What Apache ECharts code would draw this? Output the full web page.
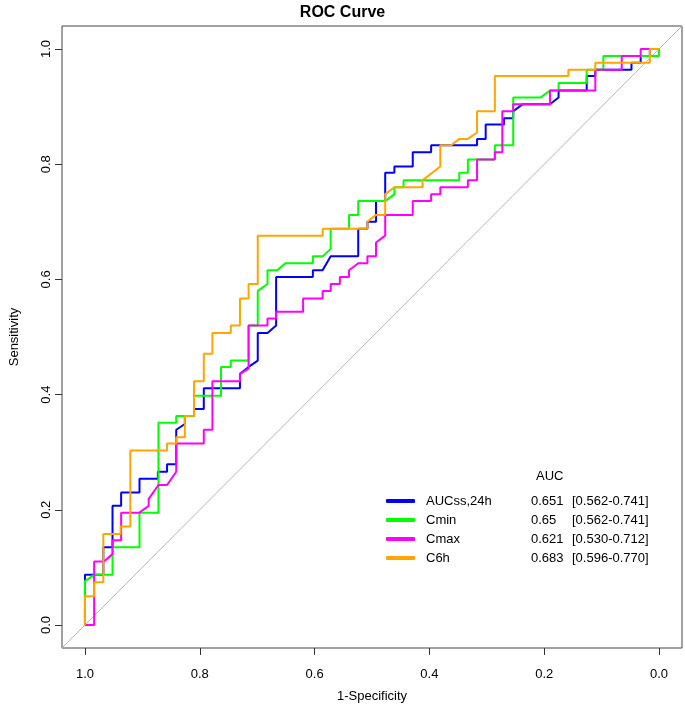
<!DOCTYPE html>
<html>
<head>
<meta charset="utf-8">
<script src="https://cdn.jsdelivr.net/npm/echarts@6/dist/echarts.min.js"></script>
<style>
html,body{margin:0;padding:0;background:#fff;}
#chart{width:685px;height:710px;}
</style>
</head>
<body>
<div id="chart"></div>
<script>
// ---- data: [specificity, sensitivity] ----
const seriesNames = ['AUCss,24h', 'Cmin', 'Cmax', 'C6h'];
const aucValues = ['0.651', '0.65', '0.621', '0.683'];
const aucCI = ['[0.562-0.741]', '[0.562-0.741]', '[0.530-0.712]', '[0.596-0.770]'];
const tickValues = [0, 0.2, 0.4, 0.6, 0.8, 1.0];
const diagonal = [[1.04, -0.04], [-0.04, 1.04]];

const rocAUCss = [
  [1.000,0],[1.000,0.087],[0.968,0.087],[0.968,0.135],[0.952,0.135],[0.952,0.207],
  [0.937,0.207],[0.937,0.230],[0.905,0.230],[0.905,0.254],[0.873,0.254],[0.873,0.266],
  [0.857,0.266],[0.857,0.279],[0.841,0.279],[0.841,0.339],[0.826,0.349],[0.826,0.363],
  [0.810,0.363],[0.810,0.375],[0.793,0.375],[0.793,0.411],[0.730,0.411],[0.730,0.436],
  [0.715,0.448],[0.699,0.459],[0.699,0.507],[0.682,0.507],[0.667,0.520],[0.667,0.604],
  [0.603,0.604],[0.603,0.616],[0.586,0.616],[0.572,0.640],[0.524,0.640],[0.524,0.688],
  [0.508,0.688],[0.508,0.700],[0.493,0.700],[0.493,0.736],[0.477,0.736],[0.477,0.785],
  [0.461,0.785],[0.461,0.796],[0.429,0.796],[0.429,0.821],[0.397,0.821],[0.397,0.833],
  [0.317,0.833],[0.317,0.844],[0.302,0.844],[0.302,0.869],[0.270,0.869],[0.270,0.880],
  [0.254,0.880],[0.254,0.892],[0.238,0.904],[0.190,0.904],[0.175,0.916],[0.175,0.928],
  [0.126,0.928],[0.126,0.953],[0.111,0.953],[0.111,0.964],[0.048,0.964],[0.048,0.976],
  [0.032,0.976],[0.032,0.988],[0.016,0.988],[0.016,1.000],[0.000,1.000]
];

const rocCmin = [
  [1.000,0],[1.000,0.076],[0.984,0.087],[0.952,0.087],[0.952,0.135],[0.905,0.135],
  [0.905,0.195],[0.872,0.195],[0.872,0.351],[0.841,0.351],[0.841,0.363],[0.810,0.363],
  [0.810,0.398],[0.763,0.398],[0.763,0.448],[0.746,0.448],[0.746,0.459],[0.715,0.459],
  [0.715,0.520],[0.699,0.520],[0.699,0.580],[0.682,0.592],[0.682,0.616],[0.665,0.616],
  [0.651,0.628],[0.603,0.628],[0.603,0.640],[0.586,0.640],[0.572,0.653],[0.572,0.688],
  [0.540,0.688],[0.540,0.712],[0.524,0.712],[0.524,0.736],[0.477,0.736],[0.461,0.748],
  [0.461,0.760],[0.445,0.760],[0.445,0.772],[0.348,0.772],[0.348,0.785],[0.333,0.785],
  [0.333,0.808],[0.286,0.808],[0.286,0.833],[0.254,0.833],[0.254,0.916],[0.206,0.916],
  [0.190,0.928],[0.175,0.928],[0.175,0.941],[0.126,0.941],[0.126,0.964],[0.097,0.964],
  [0.097,0.988],[0.000,0.988],[0.000,1.000]
];

const rocCmax = [
  [1.000,0],[0.984,0],[0.984,0.110],[0.967,0.110],[0.952,0.123],[0.952,0.147],
  [0.937,0.147],[0.937,0.195],[0.905,0.195],[0.889,0.207],[0.889,0.219],[0.872,0.243],
  [0.857,0.243],[0.841,0.266],[0.841,0.315],[0.793,0.315],[0.793,0.339],[0.778,0.339],
  [0.778,0.423],[0.730,0.423],[0.730,0.436],[0.715,0.445],[0.715,0.520],[0.682,0.520],
  [0.682,0.532],[0.667,0.532],[0.667,0.544],[0.620,0.544],[0.620,0.567],[0.586,0.567],
  [0.586,0.580],[0.572,0.580],[0.572,0.592],[0.556,0.592],[0.556,0.604],[0.540,0.604],
  [0.540,0.616],[0.524,0.628],[0.508,0.628],[0.508,0.640],[0.493,0.640],[0.493,0.664],
  [0.477,0.676],[0.477,0.712],[0.429,0.712],[0.429,0.736],[0.397,0.736],[0.397,0.748],
  [0.381,0.748],[0.381,0.760],[0.333,0.760],[0.333,0.772],[0.317,0.772],[0.317,0.808],
  [0.286,0.808],[0.286,0.821],[0.273,0.821],[0.273,0.892],[0.254,0.892],[0.254,0.904],
  [0.190,0.904],[0.190,0.928],[0.111,0.928],[0.111,0.964],[0.065,0.964],[0.065,0.988],
  [0.032,0.988],[0.032,1.000],[0.000,1.000]
];

const rocC6h = [
  [1.000,0],[1.000,0.050],[0.984,0.050],[0.984,0.074],[0.968,0.074],[0.968,0.158],
  [0.938,0.158],[0.938,0.171],[0.921,0.171],[0.921,0.303],[0.857,0.303],[0.857,0.315],
  [0.841,0.315],[0.841,0.326],[0.826,0.326],[0.826,0.363],[0.810,0.363],[0.810,0.423],
  [0.793,0.423],[0.793,0.471],[0.778,0.471],[0.778,0.507],[0.746,0.507],[0.746,0.520],
  [0.730,0.520],[0.730,0.567],[0.715,0.567],[0.715,0.592],[0.699,0.592],[0.699,0.676],
  [0.586,0.676],[0.586,0.688],[0.508,0.688],[0.508,0.700],[0.493,0.712],[0.477,0.712],
  [0.477,0.748],[0.461,0.760],[0.412,0.760],[0.412,0.772],[0.381,0.796],[0.381,0.833],
  [0.362,0.833],[0.348,0.844],[0.333,0.844],[0.317,0.855],[0.317,0.892],[0.286,0.892],
  [0.286,0.953],[0.158,0.953],[0.158,0.964],[0.111,0.964],[0.111,0.976],[0.016,0.976],
  [0.016,1.000],[0.000,1.000]
];

const curves = [rocAUCss, rocCmin, rocCmax, rocC6h];
const colors = ['#0000FF', '#00FF00', '#FF00FF', '#FFA500'];

const FONT = '"Liberation Sans", Arial, Helvetica, sans-serif';
const chart = echarts.init(document.getElementById('chart'), null, {renderer: 'canvas'});

const series = [{
  name: 'diag',
  type: 'line',
  data: diagonal,
  symbol: 'none',
  silent: true,
  lineStyle: {color: '#b4b4b4', width: 1},
  z: 1
}];
curves.forEach((c, i) => {
  series.push({
    name: seriesNames[i],
    type: 'line',
    data: c,
    symbol: 'none',
    showSymbol: false,
    silent: true,
    clip: true,
    color: colors[i],
    lineStyle: {color: colors[i], width: 2},
    z: 2 + i
  });
});

const option = {
  animation: false,
  backgroundColor: '#fff',
  textStyle: {fontFamily: FONT},
  title: {
    text: 'ROC Curve',
    left: 'center',
    top: 0,
    textStyle: {fontFamily: FONT, fontWeight: 'bold', fontSize: 16, color: '#000'}
  },
  grid: {
    left: 59, right: 3, top: 26, bottom: 62,
    show: true, borderColor: '#444', borderWidth: 1
  },
  xAxis: {
    type: 'value',
    inverse: true,
    min: -0.04, max: 1.04,
    name: '1-Specificity',
    nameLocation: 'middle',
    nameGap: 42,
    nameTextStyle: {fontFamily: FONT, fontSize: 13, color: '#000'},
    axisLine: {show: false, onZero: false},
    splitLine: {show: false},
    axisTick: {show: true, customValues: tickValues, length: 7, lineStyle: {color: '#333'}},
    axisLabel: {
      customValues: tickValues, margin: 20,
      formatter: v => v.toFixed(1),
      fontFamily: FONT, fontSize: 13, color: '#000'
    }
  },
  yAxis: {
    type: 'value',
    min: -0.04, max: 1.04,
    name: 'Sensitivity',
    nameLocation: 'middle',
    nameGap: 41,
    nameTextStyle: {fontFamily: FONT, fontSize: 13, color: '#000'},
    axisLine: {show: false, onZero: false},
    splitLine: {show: false},
    axisTick: {show: true, customValues: tickValues, length: 7, lineStyle: {color: '#333'}},
    axisLabel: {
      customValues: tickValues, margin: 9, rotate: 90,
      formatter: v => v.toFixed(1),
      fontFamily: FONT, fontSize: 13, color: '#000'
    }
  },
  legend: {
    data: seriesNames,
    orient: 'vertical',
    left: 381,
    top: 488,
    itemWidth: 29,
    itemHeight: 4,
    itemGap: 3,
    icon: 'roundRect',
    selectedMode: false,
    textStyle: {
      fontFamily: FONT, fontSize: 13, color: '#000', lineHeight: 16,
      rich: {
        n: {width: 105, padding: [0, 0, 0, 6], fontFamily: FONT, fontSize: 13},
        a: {width: 41, fontFamily: FONT, fontSize: 13},
        c: {fontFamily: FONT, fontSize: 13}
      }
    },
    formatter: name => {
      const i = seriesNames.indexOf(name);
      return '{n|' + name + '}{a|' + aucValues[i] + '}{c|' + aucCI[i] + '}';
    }
  },
  graphic: [{
    type: 'text',
    left: 536,
    top: 470,
    style: {text: 'AUC', fontFamily: FONT, fontSize: 13, fill: '#000'}
  }],
  series: series
};
chart.setOption(option);
</script>
</body>
</html>
